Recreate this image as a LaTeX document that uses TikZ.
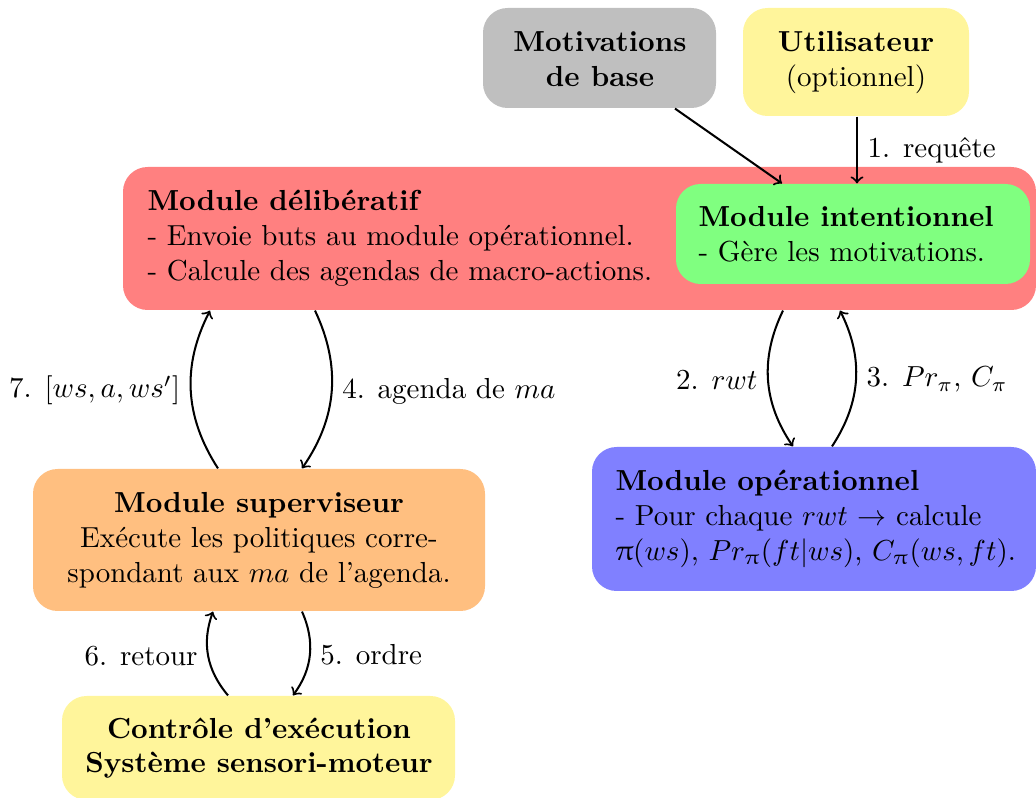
\documentclass[tikz,border=0pt]{standalone}
\usepackage{upgreek}
\usetikzlibrary{fit}
\definecolor{cRed}{RGB}{255,128,128}
\definecolor{cGreen}{RGB}{128,255,128}
\definecolor{cBlue}{RGB}{128,128,255}
\definecolor{cOrange}{RGB}{255,191,128}
\definecolor{cGray}{RGB}{191,191,191}
\definecolor{cYellow}{RGB}{255,245,155}
\begin{document}
\begin{tikzpicture}[x=0.345pt,y=-0.345pt,
  box/.style={rounded corners=8.5pt, inner sep=0pt},
  flow/.style={->, line width=0.7pt},
  txt/.style={inner sep=0pt, align=left, anchor=north west},
  ctxt/.style={inner sep=0pt, align=center, anchor=north}]
\useasboundingbox (0,0) rectangle (1036,798);

% external sources
\node[box, fill=cGray, fit={(483,8) (716,108)}] (motiv) {};
\node[ctxt, font=\bfseries] (motivtxt) at (600,31) {Motivations\\de base};
\node[box, fill=cYellow, fit={(743,8) (969,116)}] (user) {};
\node[ctxt] (usertxt) at (856,31) {\textbf{Utilisateur}\\(optionnel)};

% deliberative layer with the intentional module inside it
\node[box, fill=cRed, fit={(123,167) (1036,310)}] (delib) {};
\node[txt] (delibtxt) at (147,190) {\textbf{Module délibératif}\\- Envoie buts au module opérationnel.\\- Calcule des agendas de macro-actions.};
\node[box, fill=cGreen, fit={(676,184) (1030,284)}] (intent) {};
\node[txt] (intenttxt) at (698,206) {\textbf{Module intentionnel}\\- Gère les motivations.};

% operational module
\node[box, fill=cBlue, fit={(592,447) (1036,591)}] (oper) {};
\node[txt] (opertxt) at (615,470) {\textbf{Module opérationnel}\\- Pour chaque $rwt$ $\rightarrow$ calcule\\$\uppi(ws)$, $Pr_{\uppi}(ft|ws)$, $C_{\uppi}(ws,ft)$.};

% supervisor and execution layers
\node[box, fill=cOrange, fit={(33,469) (485,611)}] (super) {};
\node[ctxt] (supertxt) at (259,492) {\textbf{Module superviseur}\\Exécute les politiques corre-\\spondant aux $ma$ de l’agenda.};
\node[box, fill=cYellow, fit={(62,696) (455,800)}] (exec) {};
\node[ctxt, font=\bfseries] (exectxt) at (259,717) {Contrôle d’exécution\\Système sensori-moteur};

% connectors
\draw[flow] (675,0 |- motiv.south) -- (782,0 |- intent.north);
\draw[flow] (857,0 |- user.south) -- node[right] (l1) {1. requête} (857,0 |- intent.north);

\draw[flow] (315,0 |- delib.south) to[bend left=30] node[right] (l4) {4. agenda de $ma$} (302,0 |- super.north);
\draw[flow] (218,0 |- super.north) to[bend left=30] node[left] (l7) {7. $[ws,a,ws']$} (210,0 |- delib.south);

\draw[flow] (783,0 |- delib.south) to[bend right=30] node[left] (l2) {2. $rwt$} (793,0 |- oper.north);
\draw[flow] (832,0 |- oper.north) to[bend right=30] node[right] (l3) {3. $Pr_\pi$, $C_\pi$} (840,0 |- delib.south);

\draw[flow] (302,0 |- super.south) to[bend left=30] node[right] (l5) {5. ordre} (293,0 |- exec.north);
\draw[flow] (228,0 |- exec.north) to[bend left=30] node[left] (l6) {6. retour} (213,0 |- super.south);
\end{tikzpicture}
\end{document}
